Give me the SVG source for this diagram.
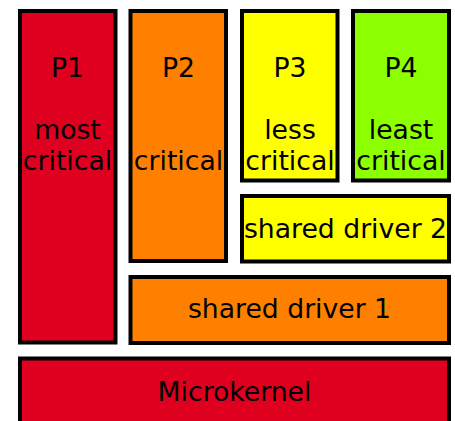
<svg xmlns="http://www.w3.org/2000/svg" width="455" height="421" viewBox="0 0 455 421">
<style>
rect{stroke:#000;stroke-width:4}
text{font-family:"DejaVu Sans",sans-serif;font-size:26.67px;text-anchor:middle;fill:#000}
.r{fill:#df0020}.o{fill:#ff8000}.y{fill:#ffff00}.g{fill:#8cff00}
</style>
<g id="p1"><rect class="r" x="20" y="11" width="95.5" height="331.5"/><text x="67.5" y="77">P1</text><text x="67.5" y="139">most</text><text x="67.5" y="170">critical</text></g>
<g id="p2"><rect class="o" x="130.5" y="11" width="95.5" height="250"/><text x="178.5" y="77">P2</text><text x="178.5" y="170">critical</text></g>
<g id="p3"><rect class="y" x="242" y="11" width="95.5" height="169.5"/><text x="290" y="77">P3</text><text x="290" y="139">less</text><text x="290" y="170">critical</text></g>
<g id="p4"><rect class="g" x="353" y="11" width="96" height="169.5"/><text x="401" y="77">P4</text><text x="401" y="139">least</text><text x="401" y="170">critical</text></g>
<g id="sd2"><rect class="y" x="242" y="196" width="207" height="65.5"/><text x="345.5" y="238">shared driver 2</text></g>
<g id="sd1"><rect class="o" x="130.5" y="277" width="318.5" height="66"/><text x="289.5" y="318">shared driver 1</text></g>
<g id="mk"><rect class="r" x="20" y="358.5" width="429" height="80"/><text x="234.5" y="401">Microkernel</text></g>
<g id="connectors"/>
</svg>
